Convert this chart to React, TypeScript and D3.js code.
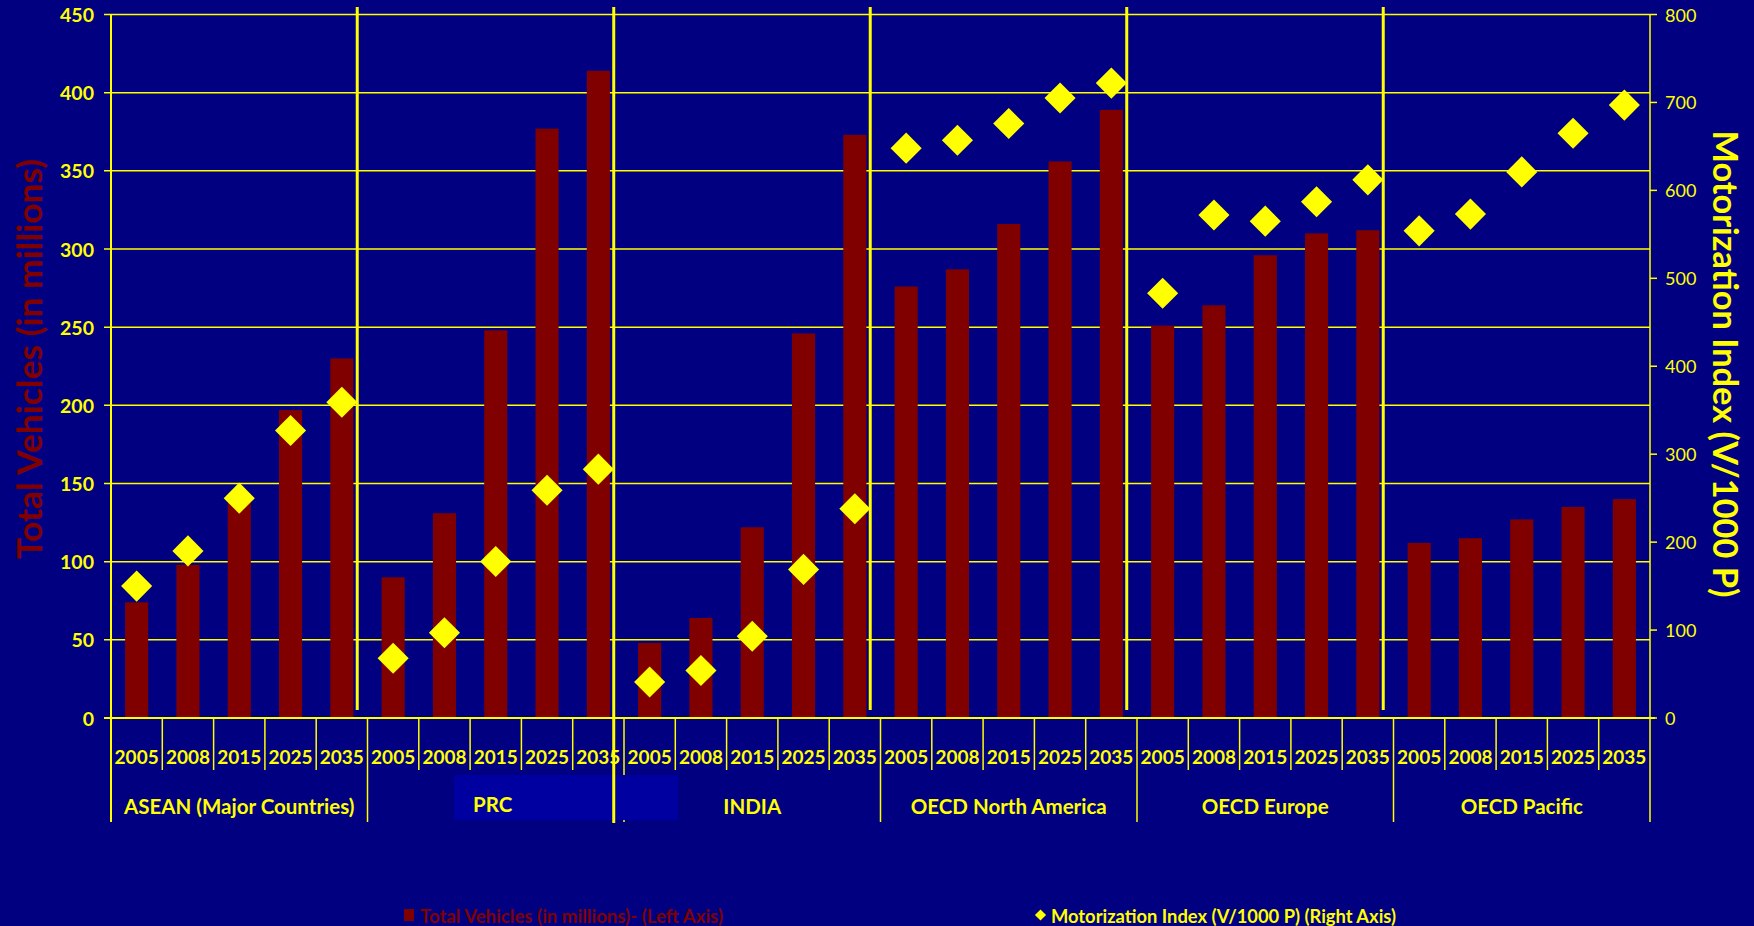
import React from 'react';
import * as d3 from 'd3';

// regions and years along the category axis
const groups = ['ASEAN (Major Countries)', 'PRC', 'INDIA', 'OECD North America', 'OECD Europe', 'OECD Pacific'];
const years = ['2005', '2008', '2015', '2025', '2035'];

// Total vehicles, millions (left axis), one row per region
const totalVehicles = [
  [74, 98, 140, 197, 230],
  [90, 131, 248, 377, 414],
  [48, 64, 122, 246, 373],
  [276, 287, 316, 356, 389],
  [251, 264, 296, 310, 312],
  [112, 115, 127, 135, 140],
];

// Motorization index, vehicles per 1000 people (right axis)
const motorization = [
  [150, 190, 250, 327, 359],
  [68, 97, 178, 259, 283],
  [41, 54, 93, 169, 238],
  [648, 657, 676, 705, 722],
  [483, 572, 565, 587, 612],
  [554, 573, 621, 665, 697],
];

const leftTicks = [0, 50, 100, 150, 200, 250, 300, 350, 400, 450];
const rightTicks = [0, 100, 200, 300, 400, 500, 600, 700, 800];

const W = 1754;
const H = 926;
const BG = '#000080';
const BAR = '#800000';
const YEL = '#ffff00';
const FONT = 'Lato, "Open Sans", sans-serif';

const App = () => {
  const left = 111;
  const right = 1650;
  const top = 14.5;
  const bottom = 718;

  const rows = groups.flatMap((g, gi) =>
    years.map((yr, yi) => ({
      key: `${gi}-${yr}`,
      group: g,
      gi,
      year: yr,
      total: totalVehicles[gi][yi],
      index: motorization[gi][yi],
    }))
  );
  const keys = rows.map(d => d.key);

  const xSlot = d3.scaleBand<string>().domain(keys).range([left, right]).padding(0);
  const xBar = d3.scaleBand<string>().domain(keys).range([left, right])
    .paddingInner(0.55).paddingOuter(0.275);
  const xGroup = d3.scaleBand<string>().domain(groups).range([left, right]).padding(0);
  const step = xSlot.step();

  const yLeft = d3.scaleLinear().domain([0, 450]).range([bottom, top]);
  const yRight = d3.scaleLinear().domain([0, 800]).range([bottom, top]);

  const diamond = d3.symbol().type(d3.symbolSquare).size(484)();
  const smallDiamond = d3.symbol().type(d3.symbolSquare).size(62)();

  // overlay separators drawn in the plot, slightly left of the group borders
  const sepX = groups.slice(1).map(g => (xGroup(g) as number) - 0.2 * step);

  const yearY = 756;
  const groupY = 806;

  return (
    <svg width={W} height={H} style={{ position: 'absolute', left: 0, top: 0, display: 'block' }}
      fontFamily={FONT}>
      <rect x={0} y={0} width={W} height={H} fill={BG} />

      {/* horizontal gridlines */}
      {leftTicks.map(t => (
        <g key={'g' + t}>
          <line x1={left - 7} x2={right} y1={yLeft(t)} y2={yLeft(t)} stroke={YEL} strokeWidth={1.5} />
          <text x={94} y={yLeft(t)} textAnchor="end" dominantBaseline="central"
            fill={YEL} fontWeight="bold" fontSize={19.5}>{t}</text>
        </g>
      ))}

      {/* bars */}
      {rows.map(d => (
        <rect key={'b' + d.key} x={xBar(d.key)} y={yLeft(d.total)} width={xBar.bandwidth()}
          height={bottom - yLeft(d.total)} fill={BAR} />
      ))}

      {/* right axis */}
      <line x1={right} x2={right} y1={top} y2={822} stroke={YEL} strokeWidth={1.5} />
      {rightTicks.map(t => (
        <g key={'r' + t}>
          <line x1={right} x2={right + 7} y1={yRight(t)} y2={yRight(t)} stroke={YEL} strokeWidth={1.5} />
          <text x={1665} y={yRight(t)} dominantBaseline="central" fill={YEL} fontSize={18}>{t}</text>
        </g>
      ))}

      {/* category axis */}
      <line x1={left - 7} x2={right + 5} y1={bottom} y2={bottom} stroke={YEL} strokeWidth={2} />
      <line x1={left} x2={left} y1={top} y2={822} stroke={YEL} strokeWidth={2} />
      {rows.map((d, i) => {
        const x0 = xSlot(d.key) as number;
        const isGroupEdge = i % years.length === 0;
        return (
          <g key={'t' + d.key}>
            {i > 0 && (
              <line x1={x0} x2={x0} y1={bottom} y2={isGroupEdge ? 822 : 770} stroke={YEL} strokeWidth={1.5} />
            )}
            <text x={x0 + step / 2} y={yearY} textAnchor="middle" dominantBaseline="central"
              fill={YEL} fontWeight="bold" fontSize={19}>{d.year}</text>
          </g>
        );
      })}
      {groups.map(g => (
        g === 'PRC' ? null : (
          <text key={'gl' + g} x={(xGroup(g) as number) + xGroup.bandwidth() / 2} y={groupY}
            textAnchor="middle" dominantBaseline="central" fill={YEL} fontWeight="bold" fontSize={20.5}>{g}</text>
        )
      ))}

      {/* PRC label box */}
      <rect x={454} y={775} width={224} height={45} fill="#0000a0" />
      <text x={473} y={groupY - 2} dominantBaseline="central" fill={YEL} fontWeight="bold" fontSize={20.5}>PRC</text>

      {/* group separator lines over the plot */}
      {sepX.map((x, i) => (
        <line key={'s' + i} x1={x} x2={x} y1={7} y2={i === 1 ? 823 : 710} stroke={YEL} strokeWidth={3} />
      ))}

      {/* motorization markers */}
      {rows.map(d => (
        <path key={'m' + d.key} d={diamond as string}
          transform={`translate(${(xSlot(d.key) as number) + step / 2},${yRight(d.index)}) rotate(45)`}
          fill={YEL} />
      ))}

      {/* axis titles */}
      <text transform={`translate(28,359) rotate(-90)`} textAnchor="middle" dominantBaseline="central"
        fill={BAR} fontWeight="bold" fontSize={34} textLength={400} lengthAdjust="spacingAndGlyphs">
        Total Vehicles (in millions)
      </text>
      <text transform={`translate(1727,364) rotate(90)`} textAnchor="middle" dominantBaseline="central"
        fill={YEL} fontWeight="bold" fontSize={35} textLength={467} lengthAdjust="spacingAndGlyphs">
        Motorization Index (V/1000 P)
      </text>

      {/* legend */}
      <rect x={404} y={909} width={10} height={12} fill={BAR} />
      <text x={420} y={915} dominantBaseline="central" fill={BAR} fontWeight="bold" fontSize={19}
        textLength={303} lengthAdjust="spacingAndGlyphs">Total Vehicles (in millions)- (Left Axis)</text>
      <path d={smallDiamond as string} transform="translate(1040.5,915) rotate(45)" fill={YEL} />
      <text x={1051} y={915} dominantBaseline="central" fill={YEL} fontWeight="bold" fontSize={19}
        textLength={345} lengthAdjust="spacingAndGlyphs">Motorization Index (V/1000 P) (Right Axis)</text>
    </svg>
  );
};

export default App;
